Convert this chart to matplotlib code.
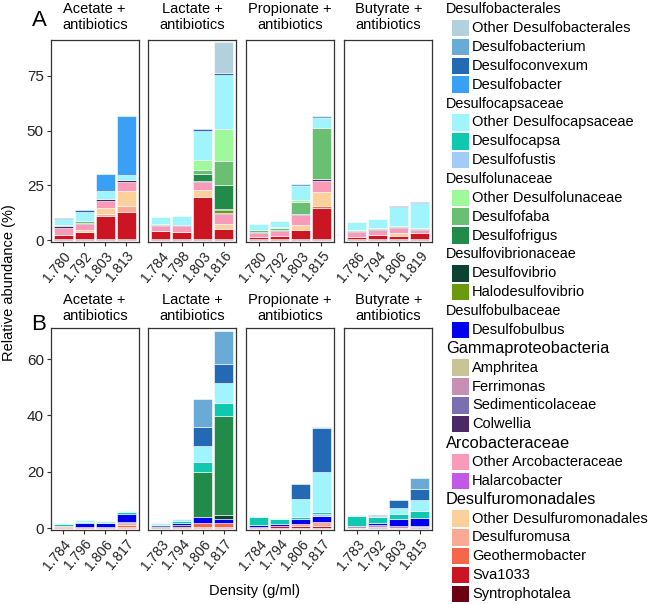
import matplotlib
matplotlib.use('Agg')
import matplotlib.pyplot as plt
from matplotlib.patches import Rectangle
import numpy as np

plt.rcParams['font.family'] = ['Liberation Sans', 'DejaVu Sans']

# legend order = stacking order (first entry on top of the bar)
taxa = ['Other Desulfobacterales', 'Desulfobacterium', 'Desulfoconvexum', 'Desulfobacter',
        'Other Desulfocapsaceae', 'Desulfocapsa', 'Desulfofustis',
        'Other Desulfolunaceae', 'Desulfofaba', 'Desulfofrigus',
        'Desulfovibrio', 'Halodesulfovibrio',
        'Desulfobulbus',
        'Amphritea', 'Ferrimonas', 'Sedimenticolaceae', 'Colwellia',
        'Other Arcobacteraceae', 'Halarcobacter',
        'Other Desulfuromonadales', 'Desulfuromusa', 'Geothermobacter', 'Sva1033', 'Syntrophotalea']
colors = ['#b3d1dc', '#6aaad6', '#2369b3', '#3aa0f5',
          '#a0f4fb', '#10c8b0', '#a3cbf5',
          '#9ff89a', '#6bbf72', '#238b4a',
          '#0b4232', '#6b9a0e',
          '#0000ee',
          '#c7c496', '#c88fb5', '#7b6fb0', '#4b2866',
          '#f99ab8', '#c158e6',
          '#fcd09a', '#f9a994', '#f5674a', '#cc1522', '#6a0012']
groups = ['Desulfobacterales', 'Desulfocapsaceae', 'Desulfolunaceae', 'Desulfovibrionaceae',
          'Desulfobulbaceae', 'Gammaproteobacteria', 'Arcobacteraceae', 'Desulfuromonadales']
group_sizes = [4, 3, 3, 2, 1, 4, 2, 5]
group_fontsize = [10.4, 10.4, 10.4, 10.4, 10.4, 11.8, 11.8, 11.8]

substrates = ['Acetate', 'Lactate', 'Propionate', 'Butyrate']
dens_A = [['1.780', '1.792', '1.803', '1.813'],
          ['1.784', '1.798', '1.803', '1.816'],
          ['1.780', '1.792', '1.803', '1.815'],
          ['1.786', '1.794', '1.806', '1.819']]
dens_B = [['1.784', '1.796', '1.806', '1.817'],
          ['1.783', '1.794', '1.806', '1.817'],
          ['1.784', '1.794', '1.806', '1.817'],
          ['1.783', '1.792', '1.803', '1.815']]

# relative abundance (%) per taxon, one value per density fraction
acetate_A = {
    'Syntrophotalea': [0.3, 0.6, 0.3, 0.3],
    'Sva1033': [1.8, 3.2, 10.7, 12.7],
    'Desulfuromusa': [0, 0, 0.8, 2.5],
    'Other Desulfuromonadales': [0.3, 0.7, 3.0, 6.9],
    'Other Arcobacteraceae': [3.0, 2.6, 3.2, 4.1],
    'Colwellia': [0.8, 0.9, 0.9, 0.9],
    'Desulfofaba': [0.8, 0.9, 0, 0],
    'Other Desulfocapsaceae': [2.7, 4.1, 3.3, 2.1],
    'Desulfobacter': [0, 0, 7.9, 27.0],
    'Desulfoconvexum': [0.2, 0.5, 0, 0],
}
lactate_A = {
    'Syntrophotalea': [0.3, 0.3, 0.3, 0.3],
    'Sva1033': [3.7, 3.2, 19.5, 4.9],
    'Other Desulfuromonadales': [0.3, 0.3, 3.0, 2.0],
    'Other Arcobacteraceae': [2.1, 2.6, 3.8, 4.5],
    'Colwellia': [0.4, 0.4, 0.5, 0.8],
    'Halodesulfovibrio': [0, 0, 0, 1.3],
    'Desulfovibrio': [0, 0, 0, 0.5],
    'Desulfofrigus': [0, 0, 3.0, 10.8],
    'Desulfofaba': [0.3, 0, 1.9, 10.9],
    'Other Desulfolunaceae': [0, 0, 4.5, 14.9],
    'Other Desulfocapsaceae': [3.2, 4.2, 13.4, 24.4],
    'Desulfoconvexum': [0, 0, 0.9, 0.9],
    'Other Desulfobacterales': [0, 0, 0, 14.1],
}
propionate_A = {
    'Syntrophotalea': [0.3, 0.3, 0.3, 0.3],
    'Sva1033': [1.2, 1.7, 4.3, 14.2],
    'Geothermobacter': [0, 0, 0, 1.2],
    'Other Desulfuromonadales': [0, 0, 2.1, 6.4],
    'Other Arcobacteraceae': [1.8, 2.1, 4.6, 5.0],
    'Colwellia': [0.4, 0.4, 0.7, 0.8],
    'Desulfofaba': [0.8, 1.0, 5.5, 23.5],
    'Other Desulfolunaceae': [0, 0.6, 0.8, 0],
    'Other Desulfocapsaceae': [2.8, 2.6, 6.5, 4.2],
    'Desulfobacterium': [0, 0, 0.8, 0.9],
}
butyrate_A = {
    'Syntrophotalea': [0.3, 0.3, 0.3, 0.3],
    'Sva1033': [1.2, 2.1, 1.5, 2.7],
    'Other Desulfuromonadales': [0, 0, 1.5, 0],
    'Other Arcobacteraceae': [2.0, 2.2, 2.0, 1.5],
    'Colwellia': [0.5, 0.4, 0.5, 0.7],
    'Desulfofaba': [0.4, 0.4, 0.6, 0.3],
    'Other Desulfocapsaceae': [3.7, 4.3, 8.8, 11.5],
    'Desulfoconvexum': [0, 0, 0.5, 0.5],
}
acetate_B = {
    'Sva1033': [0.3, 0.3, 0.3, 0.3],
    'Desulfuromusa': [0, 0, 0, 0.7],
    'Geothermobacter': [0.3, 0.2, 0.2, 0.9],
    'Colwellia': [0.2, 0, 0, 0.2],
    'Desulfobulbus': [0, 1.2, 1.3, 2.9],
    'Desulfocapsa': [0.8, 0.5, 0, 0.8],
    'Other Desulfocapsaceae': [0.1, 0.5, 0.8, 0.4],
}
lactate_B = {
    'Sva1033': [0.1, 0.3, 0.2, 0.2],
    'Geothermobacter': [0, 0.2, 1.7, 1.7],
    'Colwellia': [0.4, 0.6, 0, 0],
    'Sedimenticolaceae': [0.7, 0, 0, 0],
    'Desulfobulbus': [0, 0.8, 1.9, 1.4],
    'Desulfovibrio': [0, 0, 0, 1.2],
    'Desulfofrigus': [0, 0, 16.2, 35.4],
    'Desulfocapsa': [0, 0.7, 3.6, 4.5],
    'Other Desulfocapsaceae': [0.5, 0.6, 5.6, 7.2],
    'Desulfoconvexum': [0, 0, 6.8, 6.5],
    'Desulfobacterium': [0, 0, 9.7, 12.0],
}
propionate_B = {
    'Sva1033': [0.2, 0.7, 0.7, 0.7],
    'Desulfuromusa': [0, 0, 0.8, 1.4],
    'Colwellia': [0.3, 0, 0, 0],
    'Desulfobulbus': [0.7, 0.6, 1.6, 2.0],
    'Desulfofustis': [0, 0, 0, 0.8],
    'Desulfocapsa': [2.8, 1.9, 0.9, 0.7],
    'Other Desulfocapsaceae': [0.3, 0.4, 6.3, 14.4],
    'Desulfoconvexum': [0, 0, 5.2, 15.4],
    'Desulfobacterium': [0, 0, 0, 0.6],
}
butyrate_B = {
    'Ferrimonas': [0.7, 0.5, 0.7, 0.5],
    'Colwellia': [0, 0.4, 0, 0.3],
    'Desulfobulbus': [0, 0.8, 2.4, 2.8],
    'Desulfocapsa': [3.5, 2.1, 1.9, 2.5],
    'Other Desulfocapsaceae': [0.3, 0.6, 2.1, 3.8],
    'Desulfoconvexum': [0, 0.3, 2.7, 4.1],
    'Desulfobacterium': [0, 0, 0, 3.8],
}

rows = [([acetate_A, lactate_A, propionate_A, butyrate_A], dens_A),
        ([acetate_B, lactate_B, propionate_B, butyrate_B], dens_B)]

W, H = 649, 604
fig = plt.figure(figsize=(W / 100, H / 100), dpi=100)


def box(left, top, w, h):
    return [left / W, 1 - (top + h) / H, w / W, h / H]


panel_left = [50.7, 148.3, 246.0, 344.3]
panel_w = 88
row_top = [40, 328.3]
row_h = [202, 201.7]
row_ylim = [(-0.9, 91.4), (-0.7, 70.9)]
row_yticks = [[0, 25, 50, 75], [0, 20, 40, 60]]
title_y = [16.7, 308.3]
letter_pos = [(39.5, 20, 'A'), (38.5, 324, 'B')]

col = dict(zip(taxa, colors))
x = np.arange(4)

for r, (panels, dens) in enumerate(rows):
    for p, data in enumerate(panels):
        ax = fig.add_axes(box(panel_left[p], row_top[r], panel_w, row_h[r]))
        bottom = np.zeros(4)
        for t in taxa[::-1]:
            vals = np.array(data.get(t, [0, 0, 0, 0]), dtype=float)
            m = vals > 0
            if m.any():
                ax.bar(x[m], vals[m], bottom=bottom[m], width=0.9, color=col[t],
                       edgecolor='white', linewidth=0.4)
            bottom += vals
        ax.set_xlim(-0.6, 3.6)
        ax.set_ylim(*row_ylim[r])
        ax.set_xticks(x)
        ax.set_xticklabels(dens[p], rotation=50, ha='right', va='top',
                           rotation_mode='anchor', fontsize=10, color='#222222')
        ax.set_yticks(row_yticks[r])
        if p == 0:
            ax.set_yticklabels([str(v) for v in row_yticks[r]], fontsize=11, color='#222222')
        else:
            ax.tick_params(axis='y', left=False, labelleft=False)
        ax.tick_params(length=3, width=0.8, color='#333333', pad=2)
        for s in ax.spines.values():
            s.set_color('#333333')
            s.set_linewidth(0.9)
        fig.text((panel_left[p] + panel_w / 2) / W, 1 - title_y[r] / H,
                 substrates[p] + ' +\nantibiotics', ha='center', va='center',
                 fontsize=10.5, linespacing=1.15)

for lx, ly, lab in letter_pos:
    fig.text(lx / W, 1 - ly / H, lab, ha='center', va='center', fontsize=16)

fig.text(9 / W, 1 - 283 / H, 'Relative abundance (%)', rotation=90,
         ha='center', va='center', fontsize=10.5)
fig.text(255 / W, 1 - 591 / H, 'Density (g/ml)', ha='center', va='center', fontsize=10.5)

# grouped legend on the right
step = 18.86
yy = 9.3
k = 0
for g, n, fs in zip(groups, group_sizes, group_fontsize):
    fig.text(446 / W, 1 - yy / H, g, ha='left', va='center', fontsize=fs)
    yy += step
    for t in taxa[k:k + n]:
        fig.add_artist(Rectangle((452 / W, 1 - (yy + 8.2) / H), 16.5 / W, 16.5 / H,
                                 facecolor=col[t], edgecolor='none',
                                 transform=fig.transFigure))
        fig.text(472 / W, 1 - yy / H, t, ha='left', va='center', fontsize=10.5)
        yy += step
    k += n

fig.savefig('out.png', dpi=100)
